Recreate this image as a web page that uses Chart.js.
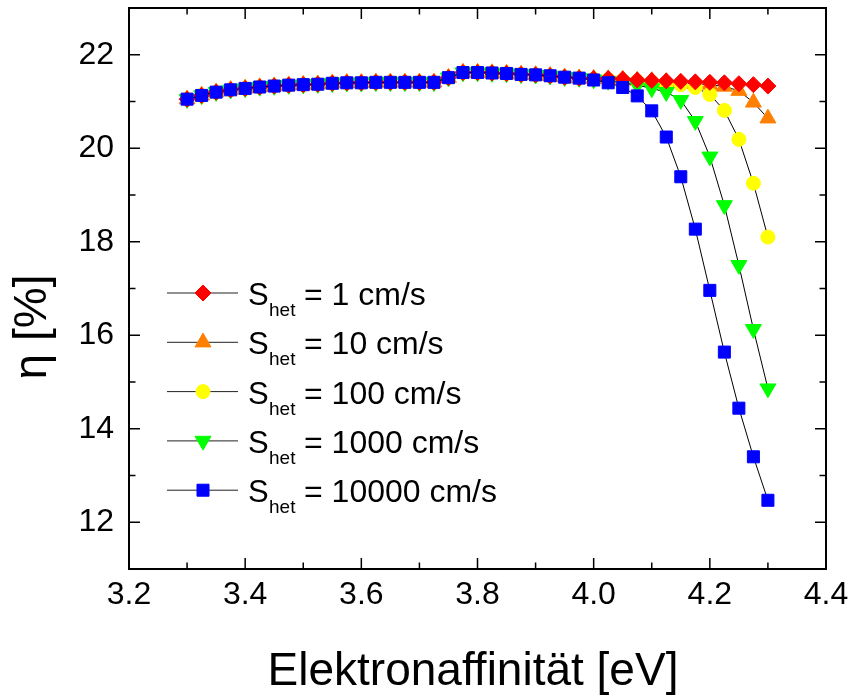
<!DOCTYPE html>
<html>
<head>
<meta charset="utf-8">
<script src="https://cdn.jsdelivr.net/npm/chart.js@4.4.1/dist/chart.umd.min.js"></script>
<style>
  html, body { margin: 0; padding: 0; background: #fff; }
  #wrap { width: 852px; height: 695px; }
</style>
</head>
<body>
<div id="wrap"><canvas id="effChart" width="852" height="695"></canvas></div>
<script>
// electron affinity (eV)
const energy = [3.3, 3.325, 3.35, 3.375, 3.4, 3.425, 3.45, 3.475, 3.5, 3.525, 3.55, 3.575, 3.6, 3.625, 3.65, 3.675, 3.7, 3.725, 3.75, 3.775, 3.8, 3.825, 3.85, 3.875, 3.9, 3.925, 3.95, 3.975, 4.0, 4.025, 4.05, 4.075, 4.1, 4.125, 4.15, 4.175, 4.2, 4.225, 4.25, 4.275, 4.3];

// efficiency (%) per S_het
const eta1 = [21.05, 21.13, 21.20, 21.25, 21.28, 21.31, 21.33, 21.35, 21.36, 21.37, 21.39, 21.40, 21.40, 21.41, 21.41, 21.41, 21.41, 21.41, 21.51, 21.62, 21.62, 21.61, 21.60, 21.58, 21.57, 21.55, 21.52, 21.50,
              21.49, 21.49, 21.48, 21.46, 21.45, 21.44, 21.43, 21.42, 21.41, 21.40, 21.38, 21.36, 21.33];
const eta10 = [21.05, 21.13, 21.20, 21.25, 21.28, 21.31, 21.33, 21.35, 21.36, 21.37, 21.39, 21.40, 21.40, 21.41, 21.41, 21.41, 21.41, 21.41, 21.51, 21.62, 21.62, 21.61, 21.60, 21.58, 21.57, 21.55, 21.52, 21.50,
              21.49, 21.48, 21.47, 21.45, 21.44, 21.42, 21.40, 21.38, 21.36, 21.32, 21.23, 20.98, 20.64];
const eta100 = [21.05, 21.13, 21.20, 21.25, 21.28, 21.31, 21.33, 21.35, 21.36, 21.37, 21.39, 21.40, 21.40, 21.41, 21.41, 21.41, 21.41, 21.41, 21.51, 21.62, 21.62, 21.61, 21.60, 21.58, 21.57, 21.55, 21.52, 21.50,
              21.48, 21.47, 21.45, 21.43, 21.41, 21.39, 21.36, 21.30, 21.15, 20.81, 20.19, 19.25, 18.10];
const eta1000 = [21.05, 21.13, 21.20, 21.25, 21.28, 21.31, 21.33, 21.35, 21.36, 21.37, 21.39, 21.40, 21.40, 21.41, 21.41, 21.41, 21.41, 21.41, 21.51, 21.62, 21.62, 21.61, 21.60, 21.58, 21.57, 21.55, 21.52, 21.50,
              21.47, 21.44, 21.40, 21.35, 21.28, 21.20, 21.03, 20.58, 19.82, 18.78, 17.50, 16.13, 14.86];
const eta10000 = [21.05, 21.13, 21.20, 21.25, 21.28, 21.31, 21.33, 21.35, 21.36, 21.37, 21.39, 21.40, 21.40, 21.41, 21.41, 21.41, 21.41, 21.41, 21.51, 21.62, 21.62, 21.61, 21.60, 21.58, 21.57, 21.55, 21.52, 21.50,
              21.46, 21.40, 21.30, 21.12, 20.80, 20.24, 19.39, 18.27, 16.96, 15.64, 14.44, 13.40, 12.47];

const seriesNames = ['1 cm/s', '10 cm/s', '100 cm/s', '1000 cm/s', '10000 cm/s'];

// axis ticks
const xTicks = [3.2, 3.4, 3.6, 3.8, 4.0, 4.2, 4.4];
const xMinorTicks = [3.3, 3.5, 3.7, 3.9, 4.1, 4.3];
const yTicks = [12, 14, 16, 18, 20, 22];
const yMinorTicks = [13, 15, 17, 19, 21];

const FONT = '"Liberation Sans", Arial, sans-serif';

function toPoints(vals){
    return energy.map((x, i) => ({x: x, y: vals[i]}));
}

// marker look per series (same order as seriesNames)
const styles = [
    {color: '#ff0000', pointStyle: 'rectRot', radius: 8, rotation: 0},
    {color: '#ff7f00', pointStyle: 'triangle', radius: 9.2, rotation: 0},
    {color: '#ffff00', pointStyle: 'circle', radius: 7, rotation: 0},
    {color: '#00ff00', pointStyle: 'triangle', radius: 9.2, rotation: 180},
    {color: '#0000ff', pointStyle: 'rect', radius: 8.5, rotation: 0}
];
const allSeries = [eta1, eta10, eta100, eta1000, eta10000];
const drawOrder = [1, 4, 3, 2, 0]; // higher = drawn earlier (below)

const datasets = allSeries.map((vals, i) => ({
    label: 'S_het = ' + seriesNames[i],
    data: toPoints(vals),
    order: drawOrder[i],
    showLine: true,
    borderColor: '#000',
    borderWidth: 1,
    pointStyle: styles[i].pointStyle,
    pointRadius: styles[i].radius,
    pointRotation: styles[i].rotation,
    pointBackgroundColor: styles[i].color,
    pointBorderColor: styles[i].color,
    pointBorderWidth: 1,
    tension: 0
}));

// frame, inward ticks, axis titles and legend
const decor = {
    id: 'decor',
    afterDraw(chart){
        const ctx = chart.ctx;
        const a = chart.chartArea;
        const xs = chart.scales.x, ys = chart.scales.y;
        ctx.save();
        ctx.strokeStyle = '#000';
        ctx.lineWidth = 1.5;
        ctx.beginPath();
        const tick = (vals, len, isX) => {
            vals.forEach(v => {
                if(isX){
                    const px = xs.getPixelForValue(v);
                    ctx.moveTo(px, a.bottom); ctx.lineTo(px, a.bottom - len);
                    ctx.moveTo(px, a.top); ctx.lineTo(px, a.top + len);
                } else {
                    const py = ys.getPixelForValue(v);
                    ctx.moveTo(a.left, py); ctx.lineTo(a.left + len, py);
                    ctx.moveTo(a.right, py); ctx.lineTo(a.right - len, py);
                }
            });
        };
        tick(xTicks, 11, true);
        tick(xMinorTicks, 6.5, true);
        tick(yTicks, 11, false);
        tick(yMinorTicks, 6.5, false);
        ctx.stroke();

        ctx.lineWidth = 2;
        ctx.strokeRect(a.left, a.top, a.right - a.left, a.bottom - a.top);

        // axis titles
        ctx.fillStyle = '#000';
        ctx.font = '46px ' + FONT;
        ctx.textAlign = 'center';
        ctx.textBaseline = 'alphabetic';
        ctx.fillText('Elektronaffinität [eV]', 473, 685);
        ctx.save();
        ctx.translate(46, 327);
        ctx.rotate(-Math.PI / 2);
        ctx.fillText('η [%]', 0, 0);
        ctx.restore();

        // legend
        const top = 293, step = 49.3;
        seriesNames.forEach((name, i) => {
            const y = top + i * step;
            ctx.strokeStyle = '#222';
            ctx.lineWidth = 1;
            ctx.beginPath();
            ctx.moveTo(167, y); ctx.lineTo(238, y);
            ctx.stroke();
            ctx.fillStyle = styles[i].color;
            ctx.strokeStyle = styles[i].color;
            Chart.helpers.drawPoint(ctx, {
                pointStyle: styles[i].pointStyle,
                radius: styles[i].radius,
                rotation: styles[i].rotation,
                borderWidth: 1
            }, 203, y);
            ctx.fillStyle = '#000';
            ctx.textAlign = 'left';
            ctx.font = '31px ' + FONT;
            ctx.fillText('S', 248, y + 12);
            ctx.font = '19px ' + FONT;
            ctx.fillText('het', 269, y + 23);
            ctx.font = '32px ' + FONT;
            ctx.fillText('= ' + name, 304, y + 12);
        });
        ctx.restore();
    }
};

new Chart(document.getElementById('effChart').getContext('2d'), {
    type: 'line',
    data: { datasets: datasets },
    options: {
        responsive: false,
        animation: false,
        devicePixelRatio: 1,
        layout: { autoPadding: false, padding: { top: 8, right: 26, left: 0, bottom: 0 } },
        plugins: { legend: { display: false }, tooltip: { enabled: false } },
        scales: {
            x: {
                type: 'linear',
                min: 3.2, max: 4.4,
                grid: { display: false, drawTicks: false },
                border: { display: false },
                afterBuildTicks: (s) => { s.ticks = xTicks.map(v => ({value: v})); },
                afterFit: (s) => {
                    s.height = 126;
                    s.paddingLeft = 0; s.paddingRight = 0;
                    s.paddingTop = 0; s.paddingBottom = 0;
                },
                ticks: {
                    padding: 7,
                    color: '#000',
                    font: { family: FONT, size: 32 },
                    maxRotation: 0,
                    callback: (v) => Number(v).toFixed(1)
                }
            },
            y: {
                type: 'linear',
                min: 11, max: 23,
                grid: { display: false, drawTicks: false },
                border: { display: false },
                afterBuildTicks: (s) => { s.ticks = yTicks.map(v => ({value: v})); },
                afterFit: (s) => {
                    s.width = 129;
                    s.paddingLeft = 0; s.paddingRight = 0;
                    s.paddingTop = 0; s.paddingBottom = 0;
                },
                ticks: {
                    padding: 15,
                    color: '#000',
                    font: { family: FONT, size: 32 },
                    callback: (v) => String(v)
                }
            }
        }
    },
    plugins: [decor]
});
</script>
</body>
</html>
